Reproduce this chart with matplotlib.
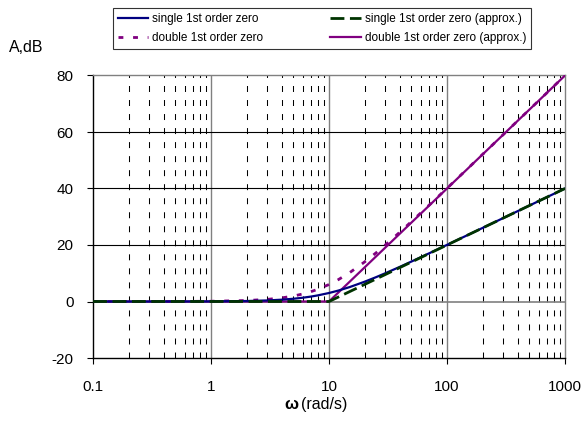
import matplotlib
matplotlib.use("Agg")
import matplotlib.pyplot as plt
from matplotlib.ticker import FixedLocator, NullFormatter
from matplotlib.lines import Line2D

plt.rcParams['font.family'] = ['Liberation Sans', 'DejaVu Sans']
plt.rcParams['lines.scale_dashes'] = False
plt.rcParams['axes.unicode_minus'] = False

# Data (frequency in rad/s, magnitude in dB)
w = [0.1, 0.2, 0.5, 1, 2, 3, 4, 5, 6, 7, 8, 10, 12, 15, 20, 25, 30, 40, 50, 70, 100, 200, 500, 1000]
single_zero = [0.0, 0.0, 0.01, 0.04, 0.17, 0.37, 0.65, 0.97, 1.34, 1.73, 2.15, 3.01, 3.87, 5.12,
               6.99, 8.60, 10.0, 12.30, 14.15, 16.99, 20.04, 26.03, 33.98, 40.0]
double_zero = [0.0, 0.0, 0.02, 0.09, 0.34, 0.75, 1.29, 1.94, 2.67, 3.46, 4.30, 6.02, 7.74, 10.24,
               13.98, 17.20, 20.0, 24.61, 28.30, 33.98, 40.09, 52.06, 67.96, 80.0]
w_approx = [0.1, 10, 1000]
single_approx = [0, 0, 40]
double_approx = [0, 0, 80]

labels = ["single 1st order zero", "single 1st order zero (approx.)",
          "double 1st order zero", "double 1st order zero (approx.)"]
x_ticks = [0.1, 1, 10, 100, 1000]
x_ticklabels = ["0.1", "1", "10", "100", "1000"]
y_ticks = [-20, 0, 20, 40, 60, 80]

W, H = 587, 423
fig = plt.figure(figsize=(W / 100, H / 100), dpi=100)
L, R, T, B = 93, 565, 75.5, 358
ax = fig.add_axes([L / W, (H - B) / H, (R - L) / W, (B - T) / H])

ax.set_xscale('log')
ax.set_xlim(0.1, 1000)
ax.set_ylim(-20, 80)

# minor dashed vertical grid
minors = [m * d for d in [0.1, 1, 10, 100] for m in range(2, 10)]
for x in minors:
    ax.axvline(x, color='black', lw=0.75, dashes=(4.3, 5.8), zorder=1)
for x in [1, 10, 100]:
    ax.axvline(x, color='#808080', lw=1.0, zorder=1)
for y in [20, 40, 60]:
    ax.axhline(y, color='black', lw=0.8, zorder=1)
ax.axhline(0, color='#808080', lw=1.2, zorder=1)

navy = '#000080'
dgreen = '#003300'
purple = '#800080'

ax.plot(w_approx, double_approx, color=purple, lw=1.6, zorder=3)
ax.plot(w, double_zero, color=purple, lw=2.0, dashes=(3.5, 7), zorder=3)
ax.plot(w, single_zero, color=navy, lw=1.6, zorder=4)
ax.plot(w_approx, single_approx, color=dgreen, lw=2.0, dashes=(10, 4), zorder=5)

ax.xaxis.set_major_locator(FixedLocator(x_ticks))
ax.set_xticklabels(x_ticklabels)
ax.xaxis.set_minor_locator(FixedLocator([]))
ax.xaxis.set_minor_formatter(NullFormatter())
ax.set_yticks(y_ticks)
ax.tick_params(axis='both', labelsize=11, direction='out', length=4, width=0.8, colors='black')
ax.tick_params(axis='x', pad=12)
ax.tick_params(axis='y', pad=10)

for s in ['top', 'right']:
    ax.spines[s].set_color('#808080')
    ax.spines[s].set_linewidth(1.0)
for s in ['left', 'bottom']:
    ax.spines[s].set_color('black')
    ax.spines[s].set_linewidth(1.0)

fig.text(9 / W, 1 - 48 / H, "A,dB", fontsize=11.5, ha='left', va='center')
fig.text(298 / W, 1 - 404 / H, "ω", fontsize=12, fontweight='bold', ha='right', va='center')
fig.text(301 / W, 1 - 404 / H, "(rad/s)", fontsize=11.5, ha='left', va='center')

h_single = Line2D([], [], color=navy, lw=1.6)
h_single_a = Line2D([], [], color=dgreen, lw=2.0, dashes=(10, 4))
h_double = Line2D([], [], color=purple, lw=2.0, dashes=(3.5, 7))
h_double_a = Line2D([], [], color=purple, lw=1.6)
# column-wise fill: column 1 = single/double, column 2 = approx versions
handles = [h_single, h_double, h_single_a, h_double_a]
leg_labels = [labels[0], labels[2], labels[1], labels[3]]
leg = fig.legend(handles, leg_labels, ncol=2, fontsize=8.5, frameon=True, fancybox=False,
                 edgecolor='black', loc='upper left', bbox_to_anchor=(113 / W, 1 - 8 / H),
                 handlelength=2.6, handletextpad=0.3, columnspacing=5.7, labelspacing=0.65,
                 borderpad=0.4, borderaxespad=0)
leg.get_frame().set_linewidth(0.8)

fig.savefig("out.png", dpi=100)
